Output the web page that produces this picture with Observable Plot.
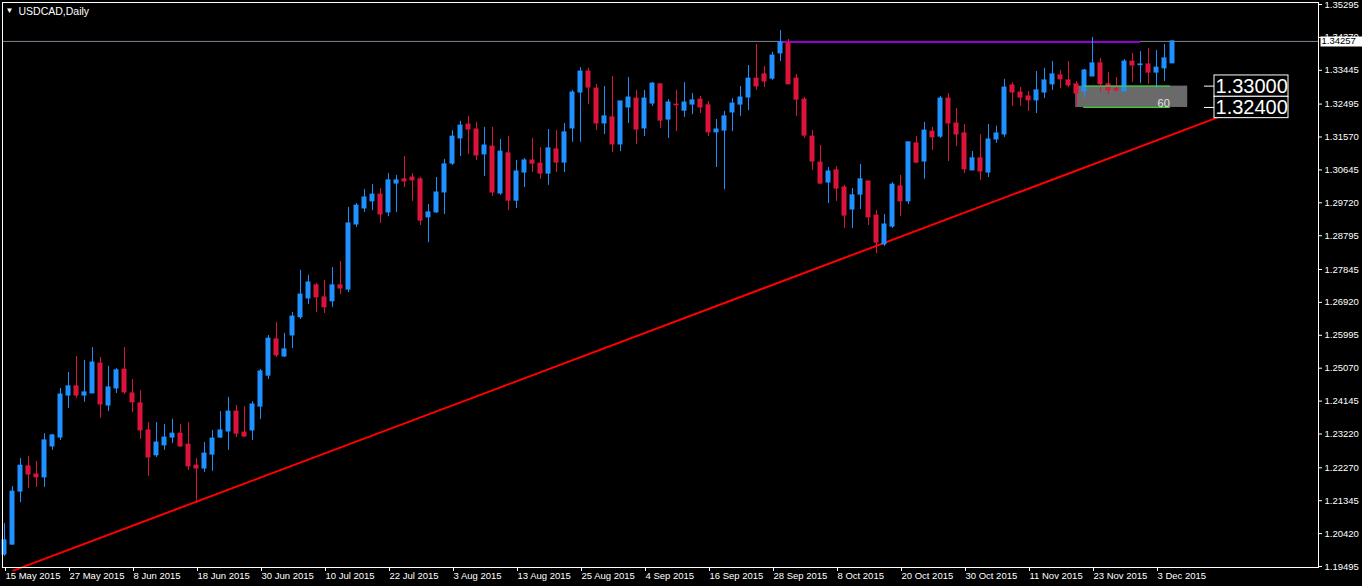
<!DOCTYPE html>
<html>
<head>
<meta charset="utf-8">
<script src="https://cdn.jsdelivr.net/npm/d3@7"></script>
<script src="https://cdn.jsdelivr.net/npm/@observablehq/plot@0.6"></script>
<style>
  html, body { margin: 0; padding: 0; background: #000; }
  #chart { width: 1362px; height: 586px; }
</style>
</head>
<body>
<div id="chart"></div>
<script>
// ---- data (USDCAD daily, bar index 0 = 15 May 2015) ----
const symbolTitle = "USDCAD,Daily";

const open = [1.1983,1.2011,1.2160,1.2231,1.2208,1.2200,1.2287,1.2312,1.2430,1.2456,
1.2430,1.2436,1.2520,1.2402,1.2450,1.2503,1.2436,1.2408,1.2332,1.2262,
1.2290,1.2312,1.2323,1.2292,1.2233,1.2225,1.2264,1.2312,1.2329,1.2385,
1.2326,1.2332,1.2399,1.2486,1.2588,1.2540,1.2599,1.2650,1.2703,1.2740,
1.2706,1.2695,1.2740,1.2728,1.2911,1.2956,1.2976,1.2995,1.2945,1.3026,
1.3038,1.3043,1.3038,1.2931,1.2945,1.3001,1.3082,1.3153,1.3192,1.3178,
1.3108,1.3130,1.2998,1.3111,1.2978,1.3057,1.3091,1.3082,1.3054,1.3122,
1.3085,1.3181,1.3282,1.3341,1.3293,1.3195,1.3212,1.3136,1.3240,1.3265,
1.3181,1.3251,1.3305,1.3206,1.3248,1.3231,1.3248,1.3262,1.3246,1.3170,
1.3175,1.3226,1.3248,1.3268,1.3321,1.3333,1.3321,1.3392,1.3420,1.3321,
1.3262,1.3158,1.3085,1.3029,1.3063,1.3015,1.2953,1.2995,1.3032,1.2936,
1.2855,1.2905,1.3018,1.2976,1.3139,1.3088,1.3172,1.3158,1.3265,1.3195,
1.3167,1.3063,1.3097,1.3057,1.3150,1.3164,1.3302,1.3282,1.3271,1.3260,
1.3282,1.3305,1.3330,1.3316,1.3305,1.3285,1.3327,1.3364,1.3305,1.3293,
1.3285,1.3369,1.3359,1.3361,1.3338,1.3350,1.3364];

const high = [1.2070,1.2174,1.2253,1.2259,1.2245,1.2323,1.2321,1.2450,1.2495,1.2540,
1.2529,1.2565,1.2537,1.2512,1.2506,1.2565,1.2475,1.2444,1.2354,1.2354,
1.2349,1.2363,1.2349,1.2354,1.2253,1.2298,1.2332,1.2385,1.2425,1.2402,
1.2399,1.2413,1.2503,1.2599,1.2635,1.2605,1.2664,1.2782,1.2768,1.2745,
1.2754,1.2790,1.2807,1.2959,1.2970,1.3009,1.3023,1.3012,1.3054,1.3049,
1.3102,1.3054,1.3043,1.2967,1.3043,1.3094,1.3175,1.3201,1.3215,1.3198,
1.3184,1.3184,1.3150,1.3158,1.3091,1.3097,1.3153,1.3127,1.3178,1.3175,
1.3195,1.3288,1.3352,1.3350,1.3305,1.3299,1.3327,1.3257,1.3324,1.3288,
1.3288,1.3310,1.3307,1.3262,1.3288,1.3310,1.3279,1.3271,1.3257,1.3206,
1.3229,1.3265,1.3299,1.3358,1.3417,1.3355,1.3395,1.3456,1.3431,1.3333,
1.3268,1.3175,1.3133,1.3071,1.3074,1.3021,1.3012,1.3080,1.3032,1.2950,
1.2939,1.3029,1.3049,1.3142,1.3158,1.3198,1.3184,1.3271,1.3279,1.3237,
1.3192,1.3116,1.3164,1.3192,1.3187,1.3319,1.3310,1.3296,1.3285,1.3341,
1.3350,1.3369,1.3344,1.3369,1.3313,1.3347,1.3437,1.3378,1.3338,1.3324,
1.3375,1.3392,1.3397,1.3406,1.3400,1.3417,1.3428];

const low = [1.1978,1.2009,1.2129,1.2169,1.2172,1.2172,1.2276,1.2304,1.2394,1.2422,
1.2411,1.2436,1.2366,1.2385,1.2436,1.2433,1.2382,1.2307,1.2203,1.2256,
1.2276,1.2295,1.2284,1.2219,1.2127,1.2214,1.2217,1.2309,1.2276,1.2312,
1.2312,1.2304,1.2363,1.2475,1.2537,1.2537,1.2562,1.2644,1.2686,1.2664,
1.2661,1.2678,1.2714,1.2720,1.2903,1.2945,1.2950,1.2914,1.2933,1.2945,
1.3015,1.2976,1.2908,1.2860,1.2942,1.2939,1.3077,1.3102,1.3108,1.3091,
1.3046,1.2990,1.2993,1.2950,1.2956,1.3015,1.3057,1.3038,1.3021,1.3057,
1.3057,1.3142,1.3142,1.3248,1.3175,1.3164,1.3113,1.3116,1.3195,1.3136,
1.3158,1.3243,1.3181,1.3153,1.3172,1.3212,1.3220,1.3223,1.3158,1.3071,
1.3009,1.3172,1.3215,1.3231,1.3288,1.3296,1.3316,1.3369,1.3305,1.3215,
1.3153,1.3063,1.3023,1.2970,1.2976,1.2900,1.2900,1.2953,1.2908,1.2829,
1.2849,1.2900,1.2933,1.2967,1.3082,1.3038,1.3119,1.3153,1.3088,1.3130,
1.3054,1.3063,1.3035,1.3043,1.3139,1.3156,1.3243,1.3243,1.3229,1.3223,
1.3265,1.3288,1.3293,1.3296,1.3243,1.3268,1.3327,1.3282,1.3276,1.3282,
1.3285,1.3310,1.3307,1.3305,1.3291,1.3313,1.3364];

const close = [1.2023,1.2160,1.2233,1.2208,1.2200,1.2304,1.2318,1.2433,1.2456,1.2430,
1.2439,1.2523,1.2405,1.2453,1.2501,1.2439,1.2411,1.2332,1.2256,1.2298,
1.2312,1.2323,1.2287,1.2231,1.2225,1.2267,1.2309,1.2332,1.2385,1.2323,
1.2315,1.2405,1.2498,1.2590,1.2543,1.2560,1.2652,1.2714,1.2748,1.2706,
1.2678,1.2740,1.2731,1.2914,1.2964,1.2987,1.2995,1.2939,1.3035,1.3035,
1.3032,1.3035,1.2922,1.2945,1.3001,1.3080,1.3158,1.3189,1.3178,1.3105,
1.3133,1.3001,1.3116,1.2978,1.3060,1.3091,1.3082,1.3054,1.3125,1.3085,
1.3170,1.3282,1.3341,1.3296,1.3195,1.3215,1.3136,1.3257,1.3268,1.3178,
1.3265,1.3307,1.3203,1.3254,1.3246,1.3254,1.3260,1.3240,1.3170,1.3178,
1.3215,1.3251,1.3268,1.3321,1.3299,1.3313,1.3386,1.3423,1.3305,1.3262,
1.3161,1.3088,1.3026,1.3060,1.3012,1.2936,1.2993,1.3038,1.2931,1.2860,
1.2911,1.3023,1.2976,1.3142,1.3085,1.3175,1.3156,1.3265,1.3195,1.3164,
1.3066,1.3097,1.3060,1.3150,1.3167,1.3296,1.3282,1.3268,1.3260,1.3288,
1.3316,1.3333,1.3319,1.3302,1.3279,1.3344,1.3364,1.3305,1.3288,1.3288,
1.3369,1.3358,1.3361,1.3338,1.3352,1.3378,1.34257];

const xTickIdx = [0,8,16,24,32,40,48,56,64,72,80,88,96,104,112,120,128,136,144];
const xTickLabels = ["15 May 2015","27 May 2015","8 Jun 2015","18 Jun 2015","30 Jun 2015",
  "10 Jul 2015","22 Jul 2015","3 Aug 2015","13 Aug 2015","25 Aug 2015","4 Sep 2015",
  "16 Sep 2015","28 Sep 2015","8 Oct 2015","20 Oct 2015","30 Oct 2015","11 Nov 2015",
  "23 Nov 2015","3 Dec 2015"];
const yTicks = [1.35295,1.34370,1.33445,1.32495,1.31570,1.30645,1.29720,1.28795,1.27845,
  1.26920,1.25995,1.25070,1.24145,1.23220,1.22270,1.21345,1.20420,1.19495];

const currentPrice = [1.34257];
const trendPts = [{i: 1.1, p: 1.1938}, {i: 152, p: 1.3215}];
const resistance = [{from: 97, to: 142, p: 1.3424}];
const zone = [{from: 133.9, to: 147.9, lo: 1.3240, hi: 1.3300, pips: "60"}];
const zoneLines = [{from: 134.9, to: 145.75, p: 1.3300}, {from: 134.9, to: 145.75, p: 1.3240}];
const levelLabels = [{p: 1.3300, text: "1.33000"}, {p: 1.3240, text: "1.32400"}];

// ---- build ----
const UP = "#1e90ff", DOWN = "#dc143c";
const candles = open.map((o, i) => ({i, o, h: high[i], l: low[i], c: close[i]}));
const col = d => d.c >= d.o ? UP : DOWN;
const FONT = "Liberation Sans, Arial, sans-serif";

const chart = Plot.plot({
  width: 1362,
  height: 586,
  marginLeft: 2,
  marginRight: 44,
  marginTop: 2,
  marginBottom: 19,
  style: {background: "black", color: "white", fontFamily: FONT, fontSize: "9.5px", overflow: "visible"},
  x: {domain: [-0.25, 164.25]},
  y: {domain: [1.19467, 1.35351]},
  marks: [
    Plot.rect(zone, {x1: "from", x2: "to", y1: "lo", y2: "hi", fill: "#6a6a6a"}),
    Plot.ruleY(currentPrice, {stroke: "#7b8794", strokeWidth: 1}),
    Plot.line(trendPts, {x: "i", y: "p", stroke: "#ff0000", strokeWidth: 2}),
    Plot.ruleY(resistance, {y: "p", x1: "from", x2: "to", stroke: "#9400d3", strokeWidth: 2}),
    Plot.ruleX(candles, {x: "i", y1: "l", y2: "h", stroke: col, strokeWidth: 1}),
    Plot.rect(candles, {x1: d => d.i - 0.3125, x2: d => d.i + 0.3125, y1: "o", y2: "c",
      fill: col, insetTop: -0.5, insetBottom: -0.5}),
    Plot.ruleY(zoneLines, {y: "p", x1: "from", x2: "to", stroke: "#3ad43a", strokeWidth: 1.2}),
    Plot.text(zone, {x: d => d.to - 3, y: d => d.lo + 0.0011, text: "pips", fill: "#e6e6e6",
      fontSize: 11, fontFamily: FONT}),
    Plot.axisX(xTickIdx, {tickSize: 4, tickPadding: 1, textAnchor: "start", dx: 1, label: null,
      tickFormat: d => xTickLabels[xTickIdx.indexOf(d)], fontSize: 9.5, stroke: "white", fill: "white"}),
    Plot.axisY(yTicks, {anchor: "right", tickSize: 3, tickPadding: 3, label: null,
      tickFormat: d => d.toFixed(5), fontSize: 9.5, stroke: "white", fill: "white"}),
    Plot.frame({stroke: "white"}),
    // current price label on the axis
    Plot.ruleY(currentPrice, {stroke: "white", strokeWidth: 10, insetLeft: 1318.5, insetRight: -44}),
    Plot.text(currentPrice, {y: d => d, frameAnchor: "right", textAnchor: "start", dx: 3,
      text: d => d.toFixed(5), fill: "black", fontSize: 9.5}),
    // level price labels
    Plot.ruleY(levelLabels, {y: "p", x1: 150, x2: 151.25, stroke: "white"}),
    Plot.rect(levelLabels, {x1: 151.25, x2: 160.5, y1: d => d.p - 0.003, y2: d => d.p + 0.003,
      fill: "black", stroke: "white", strokeWidth: 1}),
    Plot.text(levelLabels, {x: 155.9, y: "p", text: "text", fill: "white", fontSize: 20, fontFamily: FONT}),
    // title
    Plot.text(["\u25BC"], {frameAnchor: "top-left", dx: 7, dy: 8, lineAnchor: "middle",
      textAnchor: "middle", fill: "white", fontSize: 8}),
    Plot.text([symbolTitle], {frameAnchor: "top-left", dx: 16, dy: 9, lineAnchor: "middle",
      textAnchor: "start", fill: "white", fontSize: 10.5})
  ]
});
document.getElementById("chart").appendChild(chart);
</script>
</body>
</html>
